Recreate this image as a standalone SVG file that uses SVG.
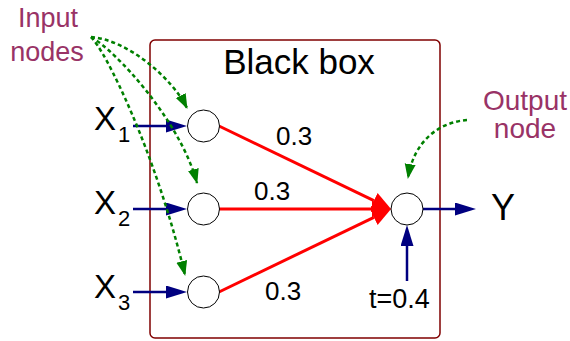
<svg xmlns="http://www.w3.org/2000/svg" width="570" height="341" viewBox="0 0 570 341">
  <style>
    text { font-family: "Liberation Sans", Arial, sans-serif; }
    .lbl { fill: #993366; font-size: 27px; text-anchor: middle; }
    .big { fill: #000; font-size: 33px; }
    .sub { fill: #000; font-size: 22px; }
    .w { fill: #000; font-size: 26px; }
    .node { fill: #fff; stroke: #000; stroke-width: 1; }
    .blue { stroke: #000080; stroke-width: 2.5; fill: none; marker-end: url(#ah-blue); }
    .red { stroke: #ff0000; stroke-width: 3; fill: none; marker-end: url(#ah-red); }
    .hint { stroke: #008000; stroke-width: 2.5; fill: none; stroke-dasharray: 4 3; marker-end: url(#ah-green); }
  </style>
  <defs>
    <marker id="ah-blue" markerUnits="userSpaceOnUse" markerWidth="22" markerHeight="14" refX="0" refY="6.5" orient="auto">
      <path d="M0,0 L21,6.5 L0,13 Z" fill="#000080"/>
    </marker>
    <marker id="ah-red" markerUnits="userSpaceOnUse" markerWidth="20" markerHeight="18" refX="0" refY="8.5" orient="auto">
      <path d="M0,0 L19,8.5 L0,17 Z" fill="#ff0000"/>
    </marker>
    <marker id="ah-green" markerUnits="userSpaceOnUse" markerWidth="16" markerHeight="12" refX="14" refY="5.5" orient="auto">
      <path d="M0,0 L15,5.5 L0,11 Z" fill="#008000"/>
    </marker>
  </defs>

  <!-- black box frame -->
  <g id="black-box">
    <rect x="150" y="40" width="290" height="298" rx="5" fill="none" stroke="#800000" stroke-width="1.5"/>
    <text x="299" y="74" font-size="35" fill="#000" text-anchor="middle">Black box</text>
  </g>

  <!-- connectors -->
  <g id="connectors">
    <line x1="133" y1="126" x2="166" y2="126" class="blue"/>
    <line x1="133" y1="209" x2="166" y2="209" class="blue"/>
    <line x1="133" y1="292" x2="166" y2="292" class="blue"/>
    <line x1="219" y1="126" x2="373.9" y2="200.7" class="red"/>
    <line x1="219" y1="209" x2="372" y2="209" class="red"/>
    <line x1="219" y1="292" x2="373.9" y2="217.3" class="red"/>
    <line x1="423" y1="209" x2="455" y2="209" class="blue"/>
    <line x1="407" y1="281" x2="407" y2="246" class="blue"/>
    <path d="M91,37 C128,40 172,78 187,108" class="hint"/>
    <path d="M91,37 C115,50 180,120 197,183" class="hint"/>
    <path d="M91,37 C105,50 155,150 185,275" class="hint"/>
    <path d="M467,120 C440,122 414,140 408,178" class="hint"/>
  </g>

  <!-- inputs -->
  <g id="input-1">
    <circle cx="203.5" cy="126" r="16" class="node"/>
    <text x="94" y="130" class="big">X</text>
    <text x="118" y="142" class="sub">1</text>
  </g>
  <g id="input-2">
    <circle cx="203.5" cy="209" r="16" class="node"/>
    <text x="94" y="214" class="big">X</text>
    <text x="118" y="226" class="sub">2</text>
  </g>
  <g id="input-3">
    <circle cx="203.5" cy="292" r="16" class="node"/>
    <text x="94" y="298" class="big">X</text>
    <text x="118" y="310" class="sub">3</text>
  </g>

  <!-- weights -->
  <g id="weights">
    <text x="276" y="145" class="w">0.3</text>
    <text x="254" y="200" class="w">0.3</text>
    <text x="265" y="300" class="w">0.3</text>
  </g>

  <!-- output -->
  <g id="output">
    <circle cx="407" cy="209" r="16" class="node"/>
    <text x="369" y="308" font-size="27" fill="#000">t=0.4</text>
    <text x="491" y="220" font-size="36" fill="#000">Y</text>
  </g>

  <!-- annotations -->
  <g id="input-label">
    <text x="48" y="27" class="lbl">Input</text>
    <text x="47" y="61" class="lbl">nodes</text>
  </g>
  <g id="output-label">
    <text x="525" y="110" class="lbl" style="font-size:28px">Output</text>
    <text x="525" y="138" class="lbl" style="font-size:28px">node</text>
  </g>
</svg>
